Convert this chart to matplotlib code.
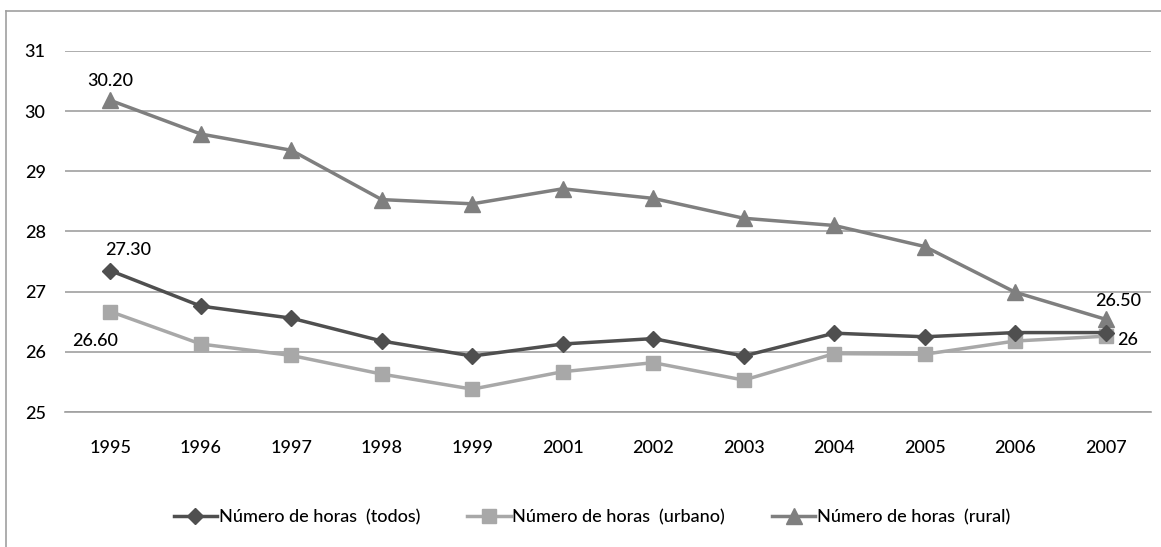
import matplotlib
matplotlib.use("Agg")
import matplotlib.pyplot as plt
from matplotlib.lines import Line2D

plt.rcParams['font.family'] = ['Lato', 'DejaVu Sans']
plt.rcParams['font.weight'] = 'medium'

years = ["1995", "1996", "1997", "1998", "1999", "2001", "2002", "2003",
         "2004", "2005", "2006", "2007"]
todos = [27.35, 26.76, 26.56, 26.18, 25.93, 26.13, 26.22, 25.93, 26.31, 26.25, 26.32, 26.32]
urbano = [26.67, 26.13, 25.94, 25.63, 25.38, 25.67, 25.82, 25.53, 25.97, 25.96, 26.18, 26.26]
rural = [30.18, 29.62, 29.35, 28.53, 28.46, 28.71, 28.55, 28.22, 28.10, 27.75, 26.99, 26.54]
series_names = ["Número de horas  (todos)", "Número de horas  (urbano)", "Número de horas  (rural)"]
yticks = [25, 26, 27, 28, 29, 30, 31]

c_todos = "#4f4f4f"
c_urb = "#a8a8a8"
c_rur = "#7f7f7f"

fig = plt.figure(figsize=(11.61, 5.47), dpi=100)
ax = fig.add_axes([0.056, 0.2468, 0.9354, 0.66])

x = list(range(len(years)))
ax.plot(x, rural, color=c_rur, lw=2.5, marker="^", ms=11, label=series_names[2], zorder=3)
ax.plot(x, urbano, color=c_urb, lw=2.5, marker="s", ms=10, label=series_names[1], zorder=4)
ax.plot(x, todos, color=c_todos, lw=2.5, marker="D", ms=8, label=series_names[0], zorder=5)

ax.set_xlim(-0.5, len(years) - 0.5)
ax.set_ylim(25, 31)
ax.set_yticks(yticks)
ax.set_xticks(x)
ax.set_xticklabels(years)
ax.yaxis.grid(True, color="#a0a0a0", lw=1.2)
ax.set_axisbelow(True)
for s in ["left", "right", "top"]:
    ax.spines[s].set_visible(False)
ax.spines["bottom"].set_color("#a0a0a0")
ax.spines["bottom"].set_linewidth(1.2)
fs = 13
ax.tick_params(axis="both", length=0, labelsize=fs, colors="#000000")
ax.tick_params(axis="x", pad=20)
ax.tick_params(axis="y", pad=29)
for lab in ax.get_yticklabels():
    lab.set_horizontalalignment("left")

ax.annotate("30.20", (0, rural[0]), xytext=(0, 14), textcoords="offset points",
            ha="center", va="center", fontsize=fs)
ax.annotate("27.30", (0, todos[0]), xytext=(13, 15), textcoords="offset points",
            ha="center", va="center", fontsize=fs)
ax.annotate("26.60", (0, urbano[0]), xytext=(-11, -21), textcoords="offset points",
            ha="center", va="center", fontsize=fs)
ax.annotate("26.50", (11, rural[-1]), xytext=(9, 13), textcoords="offset points",
            ha="center", va="center", fontsize=fs)
ax.annotate("26", (11, urbano[-1]), xytext=(16, -3), textcoords="offset points",
            ha="center", va="center", fontsize=fs)

handles = [
    Line2D([], [], color=c_todos, lw=2.5, marker="D", ms=8),
    Line2D([], [], color=c_urb, lw=2.5, marker="s", ms=10),
    Line2D([], [], color=c_rur, lw=2.5, marker="^", ms=11),
]
fig.legend(handles, series_names, loc="center", bbox_to_anchor=(0.51, 0.055), ncol=3,
           frameon=False, fontsize=fs, handlelength=2.4, handletextpad=0.1,
           columnspacing=2.6)

# outer border (left and top visible)
fig.add_artist(Line2D([0.0052, 0.0052], [0.0, 0.98], transform=fig.transFigure,
                      color="#a0a0a0", lw=1.2))
fig.add_artist(Line2D([0.0052, 1.0], [0.98, 0.98], transform=fig.transFigure,
                      color="#a0a0a0", lw=1.2))

fig.savefig("out.png", dpi=100, facecolor="white")
